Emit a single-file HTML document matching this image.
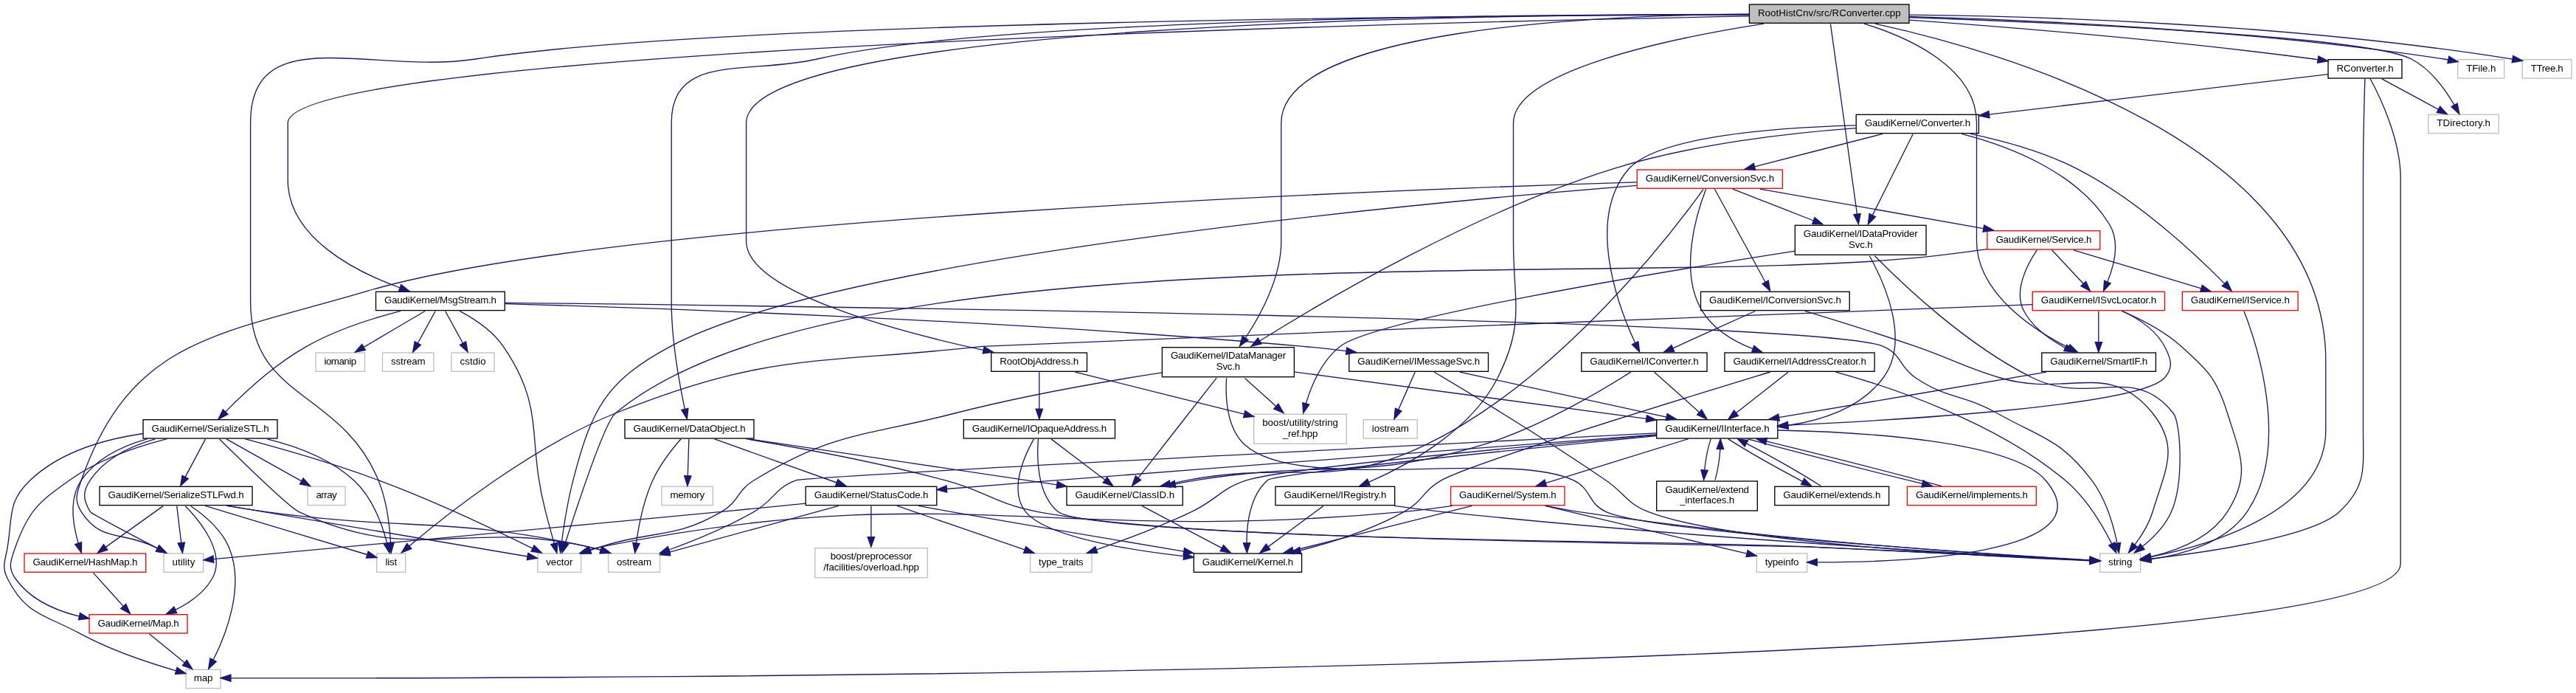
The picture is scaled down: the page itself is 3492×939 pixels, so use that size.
<!DOCTYPE html>
<html><head><meta charset="utf-8"><title>RootHistCnv/src/RConverter.cpp</title>
<style>html,body{margin:0;padding:0;background:#fff}svg{display:block}g.t{filter:grayscale(1)}text{font-family:"Liberation Sans",sans-serif;font-size:13.33px;text-anchor:middle;fill:#000;letter-spacing:-0.2px}.e path{fill:none;stroke:#191970;stroke-width:1.33}.e polygon{fill:#191970;stroke:#191970;stroke-width:1.33}.n rect{stroke-width:1.33}</style></head><body>
<svg width="3492" height="939" viewBox="0 0 3492 939">
<rect width="3492" height="939" fill="#fff"/>
<g class="n">
<rect x="2371.4" y="6" width="216.6" height="25.3" fill="#bfbfbf" stroke="#000"/>
<rect x="3156" y="80.7" width="100" height="25.3" fill="#fff" stroke="#000"/>
<rect x="3331.8" y="80.7" width="62.9" height="25.3" fill="#fff" stroke="#bfbfbf"/>
<rect x="3419.2" y="80.7" width="66.8" height="25.3" fill="#fff" stroke="#bfbfbf"/>
<rect x="2516.2" y="155.3" width="166.2" height="25.3" fill="#fff" stroke="#000"/>
<rect x="3291.8" y="155.3" width="95.4" height="25.3" fill="#fff" stroke="#bfbfbf"/>
<rect x="2219.2" y="230" width="197.1" height="25.3" fill="#fff" stroke="#f00"/>
<rect x="2433.3" y="305.3" width="177.7" height="40" fill="#fff" stroke="#000"/>
<rect x="2693.9" y="312.7" width="152.8" height="25.3" fill="#fff" stroke="#f00"/>
<rect x="509.5" y="395.3" width="174.8" height="25.3" fill="#fff" stroke="#000"/>
<rect x="2305.5" y="395.3" width="201.7" height="25.3" fill="#fff" stroke="#000"/>
<rect x="2755.3" y="395.3" width="179.1" height="25.3" fill="#fff" stroke="#f00"/>
<rect x="2958.3" y="395.3" width="156.8" height="25.3" fill="#fff" stroke="#f00"/>
<rect x="428" y="478" width="66.5" height="25.3" fill="#fff" stroke="#bfbfbf"/>
<rect x="518.5" y="478" width="69.5" height="25.3" fill="#fff" stroke="#bfbfbf"/>
<rect x="612" y="478" width="58" height="25.3" fill="#fff" stroke="#bfbfbf"/>
<rect x="1343.7" y="478" width="129.8" height="25.3" fill="#fff" stroke="#000"/>
<rect x="1575.4" y="470.7" width="179" height="40" fill="#fff" stroke="#000"/>
<rect x="1828.8" y="478" width="188.7" height="25.3" fill="#fff" stroke="#000"/>
<rect x="2143.8" y="478" width="170.2" height="25.3" fill="#fff" stroke="#000"/>
<rect x="2337.9" y="478" width="203.2" height="25.3" fill="#fff" stroke="#000"/>
<rect x="2767.8" y="478" width="154.6" height="25.3" fill="#fff" stroke="#000"/>
<rect x="194" y="568.7" width="182" height="25.3" fill="#fff" stroke="#000"/>
<rect x="847" y="568.7" width="175" height="25.3" fill="#fff" stroke="#000"/>
<rect x="1306.3" y="568.7" width="205.2" height="25.3" fill="#fff" stroke="#000"/>
<rect x="1699.7" y="561.3" width="125.6" height="40" fill="#fff" stroke="#bfbfbf"/>
<rect x="1848.3" y="568.7" width="72.9" height="25.3" fill="#fff" stroke="#bfbfbf"/>
<rect x="2245.7" y="568.7" width="164.1" height="25.3" fill="#fff" stroke="#000"/>
<rect x="135" y="659.3" width="207" height="25.3" fill="#fff" stroke="#000"/>
<rect x="417" y="659.3" width="51" height="25.3" fill="#fff" stroke="#bfbfbf"/>
<rect x="897" y="659.3" width="69.4" height="25.3" fill="#fff" stroke="#bfbfbf"/>
<rect x="1092.2" y="659.3" width="177.6" height="25.3" fill="#fff" stroke="#000"/>
<rect x="1446" y="659.3" width="157.3" height="25.3" fill="#fff" stroke="#000"/>
<rect x="1729" y="659.3" width="161.7" height="25.3" fill="#fff" stroke="#000"/>
<rect x="1966.6" y="659.3" width="154.4" height="25.3" fill="#fff" stroke="#f00"/>
<rect x="2245.7" y="652" width="136.6" height="40" fill="#fff" stroke="#000"/>
<rect x="2405.8" y="659.3" width="154.8" height="25.3" fill="#fff" stroke="#000"/>
<rect x="2585.5" y="659.3" width="174.8" height="25.3" fill="#fff" stroke="#f00"/>
<rect x="33" y="750" width="164.7" height="25.3" fill="#fff" stroke="#f00"/>
<rect x="222" y="750" width="53.6" height="25.3" fill="#fff" stroke="#bfbfbf"/>
<rect x="510.7" y="750" width="39" height="25.3" fill="#fff" stroke="#bfbfbf"/>
<rect x="728.8" y="750" width="58.9" height="25.3" fill="#fff" stroke="#bfbfbf"/>
<rect x="824.6" y="750" width="69.9" height="25.3" fill="#fff" stroke="#bfbfbf"/>
<rect x="1104.7" y="742.7" width="152.6" height="40" fill="#fff" stroke="#bfbfbf"/>
<rect x="1396.6" y="750" width="83.4" height="25.3" fill="#fff" stroke="#bfbfbf"/>
<rect x="1618.3" y="750" width="146.3" height="25.3" fill="#fff" stroke="#000"/>
<rect x="2381.3" y="750" width="68.4" height="25.3" fill="#fff" stroke="#bfbfbf"/>
<rect x="2846.6" y="750" width="55" height="25.3" fill="#fff" stroke="#bfbfbf"/>
<rect x="121" y="832.7" width="133" height="25.3" fill="#fff" stroke="#f00"/>
<rect x="252" y="907.3" width="47" height="25.3" fill="#fff" stroke="#bfbfbf"/>
</g>
<g class="t">
<text x="2479.7" y="22" textLength="193.6">RootHistCnv/src/RConverter.cpp</text>
<text x="3206" y="96.6" textLength="77">RConverter.h</text>
<text x="3363.2" y="96.6" textLength="39.9">TFile.h</text>
<text x="3452.6" y="96.6" textLength="43.8">TTree.h</text>
<text x="2599.3" y="171.3" textLength="143.2">GaudiKernel/Converter.h</text>
<text x="3339.5" y="171.3" textLength="72.4">TDirectory.h</text>
<text x="2317.8" y="246" textLength="174.1">GaudiKernel/ConversionSvc.h</text>
<text x="2522.2" y="320.9" textLength="154.7">GaudiKernel/IDataProvider</text>
<text x="2522.2" y="335.5">Svc.h</text>
<text x="2770.3" y="328.6" textLength="129.8">GaudiKernel/Service.h</text>
<text x="596.9" y="411.3" textLength="151.8">GaudiKernel/MsgStream.h</text>
<text x="2406.3" y="411.3" textLength="178.7">GaudiKernel/IConversionSvc.h</text>
<text x="2844.9" y="411.3" textLength="156.1">GaudiKernel/ISvcLocator.h</text>
<text x="3036.7" y="411.3" textLength="133.8">GaudiKernel/IService.h</text>
<text x="461.2" y="494" textLength="43.5">iomanip</text>
<text x="553.2" y="494" textLength="46.5">sstream</text>
<text x="641" y="494" textLength="35">cstdio</text>
<text x="1408.6" y="494" textLength="106.8">RootObjAddress.h</text>
<text x="1664.9" y="486.3" textLength="156">GaudiKernel/IDataManager</text>
<text x="1664.9" y="500.9">Svc.h</text>
<text x="1923.2" y="494" textLength="165.7">GaudiKernel/IMessageSvc.h</text>
<text x="2228.9" y="494" textLength="147.2">GaudiKernel/IConverter.h</text>
<text x="2439.5" y="494" textLength="180.2">GaudiKernel/IAddressCreator.h</text>
<text x="2845.1" y="494" textLength="131.6">GaudiKernel/SmartIF.h</text>
<text x="285" y="584.6" textLength="159">GaudiKernel/SerializeSTL.h</text>
<text x="934.5" y="584.6" textLength="152">GaudiKernel/DataObject.h</text>
<text x="1408.9" y="584.6" textLength="182.2">GaudiKernel/IOpaqueAddress.h</text>
<text x="1762.5" y="576.9" textLength="102.6">boost/utility/string</text>
<text x="1762.5" y="591.5">_ref.hpp</text>
<text x="1884.8" y="584.6" textLength="49.9">iostream</text>
<text x="2327.8" y="584.6" textLength="141.1">GaudiKernel/IInterface.h</text>
<text x="238.5" y="675.3" textLength="184">GaudiKernel/SerializeSTLFwd.h</text>
<text x="442.5" y="675.3" textLength="28">array</text>
<text x="931.7" y="675.3" textLength="46.4">memory</text>
<text x="1181" y="675.3" textLength="154.6">GaudiKernel/StatusCode.h</text>
<text x="1524.7" y="675.3" textLength="134.3">GaudiKernel/ClassID.h</text>
<text x="1809.8" y="675.3" textLength="138.7">GaudiKernel/IRegistry.h</text>
<text x="2043.8" y="675.3" textLength="131.4">GaudiKernel/System.h</text>
<text x="2314" y="667.6" textLength="113.6">GaudiKernel/extend</text>
<text x="2314" y="682.2">_interfaces.h</text>
<text x="2483.2" y="675.3" textLength="131.8">GaudiKernel/extends.h</text>
<text x="2672.9" y="675.3" textLength="151.8">GaudiKernel/implements.h</text>
<text x="115.3" y="766" textLength="141.7">GaudiKernel/HashMap.h</text>
<text x="248.8" y="766" textLength="30.6">utility</text>
<text x="530.2" y="766">list</text>
<text x="758.2" y="766" textLength="35.9">vector</text>
<text x="859.5" y="766" textLength="46.9">ostream</text>
<text x="1181" y="758.3">boost/preprocessor</text>
<text x="1181" y="772.9" textLength="129.6">/facilities/overload.hpp</text>
<text x="1438.3" y="766" textLength="60.4">type_traits</text>
<text x="1691.4" y="766" textLength="123.3">GaudiKernel/Kernel.h</text>
<text x="2415.5" y="766" textLength="45.4">typeinfo</text>
<text x="2874.1" y="766" textLength="32">string</text>
<text x="187.5" y="848.6" textLength="110">GaudiKernel/Map.h</text>
<text x="275.5" y="923.3">map</text>
</g>
<g class="e">
<g><title>cpp-&gt;list</title><path d="M2371.4,20.1C2030.2,20.9 980.7,27.7 644.9,80C505.5,101.7 339.6,25.6 339.6,166.7C339.6,166.7 339.6,166.7 339.6,409.3C339.6,541.4 462.8,528.5 512.9,650.7C524.2,678.1 528.2,712.2 529.5,735.3"/><polygon points="530.1,749.2 524.9,735.5 534.2,735.1"/></g>
<g><title>cpp-&gt;MsgStream.h</title><path d="M2371.4,21.9C1943,30 390.2,66.3 390.2,166.7C390.2,166.7 390.2,166.7 390.2,244C390.2,321.4 480.9,367.6 542.1,390"/><polygon points="555.1,394.6 540.6,394.4 543.7,385.6"/></g>
<g><title>cpp-&gt;string</title><path d="M2541.8,32.1C2708.4,68.4 3152.8,193 3152.8,489.3C3152.8,489.3 3152.8,489.3 3152.8,582.7C3152.8,694.1 2993,739.2 2915.4,754.6"/><polygon points="2901.9,757.1 2914.5,750 2916.2,759.2"/></g>
<g><title>cpp-&gt;DataObject.h</title><path d="M2371.5,19.6C2091.2,19.4 1347.1,24.2 1107.6,80C1014.3,101.7 910.2,70.9 910.2,166.7C910.2,166.7 910.2,166.7 910.2,409.3C910.2,461.2 921.3,521.1 928.3,554.4"/><polygon points="931.3,567.7 923.8,555.4 932.9,553.4"/></g>
<g><title>cpp-&gt;RootObjAddress.h</title><path d="M2371.1,19.5C2031.5,19.3 1011.6,30 1011.6,166.7C1011.6,166.7 1011.6,166.7 1011.6,326.7C1011.6,395.4 1217.8,449.5 1333.1,474.4"/><polygon points="1346.4,477.2 1332.2,479 1334.1,469.9"/></g>
<g><title>cpp-&gt;IDataManagerSvc.h</title><path d="M2371.6,19.2C2165.6,20.6 1736.8,38.8 1736.8,166.7C1736.8,166.7 1736.8,166.7 1736.8,326.7C1736.8,375.7 1709.2,426.5 1688.2,458"/><polygon points="1680.6,469 1684.3,455.3 1692,460.6"/></g>
<g><title>cpp-&gt;IRegistry.h</title><path d="M2391,32.1C2265.6,51.7 2051.5,95.6 2051.5,166.7C2051.5,166.7 2051.5,166.7 2051.5,326.7C2051.5,409.6 2067.6,438 2030.2,512C1994,583.6 1908.6,630.2 1855.4,653.4"/><polygon points="1843,658.6 1853.6,649.1 1857.2,657.7"/></g>
<g><title>cpp-&gt;IDataProviderSvc.h</title><path d="M2481.4,32.3C2487.5,75.8 2508.2,223.2 2517.5,290.3"/><polygon points="2519.4,303.7 2512.9,290.9 2522.1,289.6"/></g>
<g><title>cpp-&gt;SmartIF.h</title><path d="M2527,32.1C2586.2,50.5 2679.5,91.4 2679.5,166.7C2679.5,166.7 2679.5,166.7 2679.5,326.7C2679.5,396.4 2755.1,446.2 2804,471.1"/><polygon points="2816.4,477.2 2802,475.3 2806.1,466.9"/></g>
<g><title>cpp-&gt;RConverter.h</title><path d="M2588.2,27.2C2718.7,36.5 2944.3,54.6 3136.8,80C3138.6,80.2 3140.4,80.5 3142.2,80.7"/><polygon points="3155.9,82.8 3141.5,85.3 3142.9,76.1"/></g>
<g><title>cpp-&gt;TDirectory.h</title><path d="M2587.6,23.5C2789.8,30.7 3210,49.3 3268.8,80C3295.1,93.7 3315.2,121.9 3327.1,142.4"/><polygon points="3333.8,154.5 3323,144.6 3331.2,140.1"/></g>
<g><title>cpp-&gt;TFile.h</title><path d="M2588.2,22.3C2747.8,26.8 3054.8,40.4 3312.8,80C3314.8,80.3 3316.8,80.6 3318.8,81"/><polygon points="3332,83.7 3317.9,85.6 3319.8,76.4"/></g>
<g><title>cpp-&gt;TTree.h</title><path d="M2587.9,20.2C2759.4,22 3103.5,31.8 3405.9,80.2"/><polygon points="3419.4,82.3 3405.2,84.8 3406.7,75.6"/></g>
<g><title>MsgStream.h-&gt;SerializeSTL.h</title><path d="M543.1,421.3C505.8,431 455.8,446.8 415.6,469.3C372.2,493.7 329.8,533.4 305.6,558.1"/><polygon points="296.1,567.9 302.3,554.9 309,561.3"/></g>
<g><title>MsgStream.h-&gt;vector</title><path d="M623.1,421.4C642.3,431.6 667.4,447.9 682.2,469.3C740.6,553.9 713.2,594 739.6,693.3C743.3,707.6 747.7,723.5 751.3,736.4"/><polygon points="754.9,749.3 746.8,737.6 755.8,735.1"/></g>
<g><title>MsgStream.h-&gt;iomanip</title><path d="M576.2,421.5C554.1,434.5 518.8,455.3 493.1,470.4"/><polygon points="481.3,477.3 490.7,466.4 495.4,474.4"/></g>
<g><title>MsgStream.h-&gt;sstream</title><path d="M590.2,421.5C583.9,433 574.2,450.6 566.3,465"/><polygon points="559.6,477.1 562.2,462.8 570.4,467.3"/></g>
<g><title>MsgStream.h-&gt;cstdio</title><path d="M603.6,421.5C609.9,433 619.6,450.6 627.5,465"/><polygon points="634.1,477.1 623.4,467.3 631.6,462.8"/></g>
<g><title>MsgStream.h-&gt;IMessageSvc.h</title><path d="M684.3,411.6C879,417.1 1362.8,433.4 1766.2,469.3C1785.2,471 1805.6,473.3 1825.1,475.7"/><polygon points="1838.3,477.3 1824.5,480.3 1825.7,471"/></g>
<g><title>MsgStream.h-&gt;string</title><path d="M684.8,410.3C1054.1,414.4 2465.9,432.5 2552.8,469.3C2578,479.9 2574.3,496.9 2596.8,512C2641.5,541.8 2660.8,533.7 2707.5,560C2768.3,594.2 2793.6,595 2835.5,650.7C2854.8,676.3 2865,712.2 2870,736.1"/><polygon points="2872.4,749.2 2865.4,736.9 2874.6,735.3"/></g>
<g><title>SerializeSTL.h-&gt;list</title><path d="M362.1,594.8C401.2,604.3 447.2,621.2 479.6,650.7C504.6,673.5 518.2,711.2 524.8,736.2"/><polygon points="527.9,749.2 520.3,737.3 529.3,735.1"/></g>
<g><title>SerializeSTL.h-&gt;map</title><path d="M194.2,587.5C143.3,594.8 82,611.8 40.9,650.7C10,679.9 17.1,699.4 10.2,741.3C7.2,760 1.8,767 10.2,784C34.7,833.2 60.6,832.5 108.9,858.7C151.2,881.6 204,898.9 238.7,908.9"/><polygon points="252,912.6 237.5,913.4 240,904.4"/></g>
<g><title>SerializeSTL.h-&gt;Map.h</title><path d="M226.5,594.7C186.6,604.9 134,622.5 94.2,650.7C51.9,680.6 38.2,692.5 20.9,741.3C14.6,759.2 10,768.5 20.9,784C40.7,812.2 75.1,827.2 107.5,835.2"/><polygon points="120.8,838.1 106.5,839.7 108.5,830.6"/></g>
<g><title>SerializeSTL.h-&gt;HashMap.h</title><path d="M200,594.7C166.2,604.1 130.6,620.8 110.2,650.7C93.1,675.8 99.1,712.1 106.2,736.2"/><polygon points="110.4,749.1 101.7,737.6 110.6,734.7"/></g>
<g><title>SerializeSTL.h-&gt;utility</title><path d="M210.3,594.8C177.5,604.2 142,621 122.2,650.7C111.7,666.5 112.5,677.1 122.2,693.3C123.6,695.6 176.5,723.6 213.5,742.9"/><polygon points="225.4,749.1 211.4,747.1 215.7,738.8"/></g>
<g><title>SerializeSTL.h-&gt;SerializeSTLFwd.h</title><path d="M278.5,594.9C271.5,608.2 260,629.7 251.1,646.4"/><polygon points="244.7,658.5 247,644.2 255.3,648.6"/></g>
<g><title>SerializeSTL.h-&gt;vector</title><path d="M331.9,594.7C378.4,607.1 451.4,627.7 512.9,650.7C588.9,679 674.7,719.8 722,743.2"/><polygon points="734.3,749.2 720,747.3 724.1,739"/></g>
<g><title>SerializeSTL.h-&gt;ostream</title><path d="M297.5,595C325.5,622.5 392,687.4 404.9,693.3C565.3,767.5 627.2,702.5 799.6,741.3C804.5,742.4 809.5,743.8 814.5,745.3"/><polygon points="827.5,749.3 813.1,749.7 815.9,740.8"/></g>
<g><title>SerializeSTL.h-&gt;array</title><path d="M306.9,594.9C333.3,609.7 378,634.7 408.7,651.9"/><polygon points="420.6,658.5 406.5,656 411,647.8"/></g>
<g><title>Map.h-&gt;map</title><path d="M202.5,858.9C215.6,869.6 234.9,885.4 250.4,898.1"/><polygon points="260.8,906.6 247.4,901.7 253.3,894.5"/></g>
<g><title>HashMap.h-&gt;Map.h</title><path d="M126.4,776.1C137.2,788.1 153.9,806.7 167.2,821.4"/><polygon points="176.5,831.7 163.7,824.6 170.7,818.3"/></g>
<g><title>SerializeSTLFwd.h-&gt;list</title><path d="M278.2,685.4C336.6,703 444,735.3 497.7,751.5"/><polygon points="510.8,755.5 496.4,756 499.1,747.1"/></g>
<g><title>SerializeSTLFwd.h-&gt;map</title><path d="M258.4,685.5C275.8,697.3 299.7,717 310.2,741.3C332.5,793 306.6,859.2 289.1,894.3"/><polygon points="282.6,906.5 284.9,892.1 293.2,896.5"/></g>
<g><title>SerializeSTLFwd.h-&gt;Map.h</title><path d="M251.3,685.7C271.7,706.5 306.9,749.8 287.6,784C276.7,803.2 256.9,817 237.8,826.4"/><polygon points="225.4,832 235.9,822.1 239.7,830.6"/></g>
<g><title>SerializeSTLFwd.h-&gt;HashMap.h</title><path d="M221.1,685.6C201,700 167.2,724.3 143.2,741.4"/><polygon points="132.3,749.2 140.5,737.6 145.9,745.2"/></g>
<g><title>SerializeSTLFwd.h-&gt;utility</title><path d="M239.7,685.6C241.3,698.4 243.7,719.1 245.7,735.6"/><polygon points="247.4,749.2 241.1,736.1 250.4,735"/></g>
<g><title>SerializeSTLFwd.h-&gt;vector</title><path d="M309.4,685.4C419,703.9 625.6,738.9 715.1,754"/><polygon points="728.4,756.3 714.3,758.6 715.9,749.4"/></g>
<g><title>SerializeSTLFwd.h-&gt;ostream</title><path d="M307.4,685.4C324.5,688.2 342.6,691 359.6,693.3C554.5,720 607.4,699.3 799.6,741.3C804.5,742.4 809.5,743.7 814.5,745.2"/><polygon points="827.5,749.3 813.1,749.6 815.9,740.7"/></g>
<g><title>IMessageSvc.h-&gt;iostream</title><path d="M1918.2,504.2C1912.4,517.4 1903,538.6 1895.6,555.2"/><polygon points="1890,567.9 1891.4,553.3 1899.9,557.1"/></g>
<g><title>IMessageSvc.h-&gt;string</title><path d="M1944.3,504.2C1988,530.1 2092.4,593 2176.8,650.7C2203.1,668.6 2204.7,681.8 2234.2,693.3C2344.3,736.4 2709.8,754.7 2833.1,759.8"/><polygon points="2846.6,760.3 2832.9,764.5 2833.3,755.1"/></g>
<g><title>IMessageSvc.h-&gt;IInterface.h</title><path d="M1978.8,504.1C2051.8,519.9 2180,547.9 2259.1,565.1"/><polygon points="2272.3,567.9 2258.1,569.6 2260.1,560.5"/></g>
<g><title>IInterface.h-&gt;ostream</title><path d="M2245.2,586.8C1969.2,600.9 1093.3,645.7 1079.6,650.7C1049.7,661.5 1049.8,677.6 1022.2,693.3C985.1,714.5 940.2,732.8 906.9,745"/><polygon points="894.4,749.6 905.3,740.6 908.5,749.4"/></g>
<g><title>IInterface.h-&gt;StatusCode.h</title><path d="M2245.1,588.9C2087.5,600.7 1732.7,627.5 1434.2,650.7C1384.6,654.5 1329.5,658.9 1283.4,662.5"/><polygon points="1270,663.6 1283,657.9 1283.7,667.2"/></g>
<g><title>IInterface.h-&gt;type_traits</title><path d="M2245.1,589.6C2084.6,603.3 1741.9,634 1690.2,650.7C1653.9,662.4 1650.2,677 1615.5,693.3C1573,713.5 1522.6,732.2 1486.3,744.9"/><polygon points="1473.5,749.3 1484.8,740.5 1487.8,749.3"/></g>
<g><title>IInterface.h-&gt;Kernel.h</title><path d="M2245.1,590.6C2080.8,606.7 1728,642 1718.2,650.7C1694.3,671.8 1689.9,710.2 1690,735.8"/><polygon points="1690.4,749.1 1685.4,735.9 1694.7,735.6"/></g>
<g><title>IInterface.h-&gt;System.h</title><path d="M2288.7,594.7C2238.4,610.3 2151,637.4 2095.2,654.7"/><polygon points="2082.4,658.6 2093.9,650.2 2096.6,659.1"/></g>
<g><title>IInterface.h-&gt;typeinfo</title><path d="M2409.9,583C2525.5,585.3 2727,597.3 2772.8,650.7C2859.5,751.5 2579.1,761.9 2463.2,761.9"/><polygon points="2449.6,761.9 2463.3,757.3 2463.2,766.6"/></g>
<g><title>IInterface.h-&gt;extend_interfaces.h</title><path d="M2319.2,594.9C2315.4,605.8 2312.2,622.2 2310.6,637"/><polygon points="2309.6,650.4 2305.9,636.7 2315.2,637.3"/></g>
<g><title>IInterface.h-&gt;extends.h</title><path d="M2342.8,594.9C2366.2,609.8 2410.8,635.1 2443.6,652.4"/><polygon points="2455.6,658.5 2441.5,656.5 2445.8,648.2"/></g>
<g><title>IInterface.h-&gt;implements.h</title><path d="M2368.4,594.7C2427.1,610.5 2535.6,638.2 2606,655.4"/><polygon points="2619.2,658.6 2604.9,660 2607.1,650.9"/></g>
<g><title>StatusCode.h-&gt;utility</title><path d="M1092.1,682.2C1056.7,685.7 1015.5,689.8 978.2,693.3C715.7,718.5 399.8,747.5 289.3,757.6"/><polygon points="276,758.9 288.9,753 289.8,762.3"/></g>
<g><title>StatusCode.h-&gt;ostream</title><path d="M1136.9,685.4C1076.8,701.8 969.6,731.2 907.6,748.2"/><polygon points="894.7,751.7 906.3,743.7 908.8,752.7"/></g>
<g><title>StatusCode.h-&gt;overload.hpp</title><path d="M1180.9,685.6C1180.9,696.5 1180.9,712.9 1180.9,727.7"/><polygon points="1180.9,741.1 1176.2,727.7 1185.6,727.7"/></g>
<g><title>StatusCode.h-&gt;type_traits</title><path d="M1216,685.4C1260.8,700.8 1338.8,727.6 1389.1,744.9"/><polygon points="1401.9,749.3 1387.6,749.3 1390.6,740.5"/></g>
<g><title>StatusCode.h-&gt;Kernel.h</title><path d="M1244.8,685.3C1259.3,688 1274.6,690.8 1288.9,693.3C1397.6,712.6 1523.2,733.6 1604.8,747.1"/><polygon points="1618,749.3 1604.1,751.7 1605.6,742.5"/></g>
<g><title>System.h-&gt;vector</title><path d="M1968.8,685.4C1947.8,688.4 1924.8,691.3 1903.5,693.3C1420.4,738.4 1288.7,646.2 812.9,741.3C808.3,742.3 803.6,743.5 798.9,744.9"/><polygon points="786.1,749.3 797.4,740.5 800.4,749.3"/></g>
<g><title>System.h-&gt;string</title><path d="M2096.2,685.4C2110.2,688.3 2125.4,691.2 2139.5,693.3C2402.3,732.7 2721.5,752.9 2833.2,759.2"/><polygon points="2846.7,759.9 2833,763.8 2833.5,754.5"/></g>
<g><title>System.h-&gt;Kernel.h</title><path d="M1995.4,685.4C1932.3,701.1 1821.9,728.7 1753,746"/><polygon points="1739.8,749.3 1751.8,741.5 1754.1,750.5"/></g>
<g><title>System.h-&gt;typeinfo</title><path d="M2094.4,685.4C2166.7,702.5 2297.8,733.5 2368,750.1"/><polygon points="2381.2,753.2 2367,754.6 2369.1,745.5"/></g>
<g><title>extend_interfaces.h-&gt;IInterface.h</title><path d="M2325,650.4C2328.4,638 2331,621.9 2331.9,608.5"/><polygon points="2332.2,594.9 2336.6,608.6 2327.2,608.4"/></g>
<g><title>extends.h-&gt;IInterface.h</title><path d="M2468.4,658.5C2445,643.6 2400.3,618.1 2367.4,600.9"/><polygon points="2355.4,594.7 2369.5,596.7 2365.2,605"/></g>
<g><title>implements.h-&gt;IInterface.h</title><path d="M2632,658.6C2573.4,642.8 2464.8,615.1 2394.4,597.9"/><polygon points="2381.2,594.7 2395.5,593.4 2393.3,602.4"/></g>
<g><title>DataObject.h-&gt;ostream</title><path d="M923.1,594.7C911.8,607.6 894.7,629.2 884.9,650.7C872.3,678.3 865.7,712.8 862.4,735.9"/><polygon points="860.7,749.2 857.8,735.3 867.1,736.5"/></g>
<g><title>DataObject.h-&gt;string</title><path d="M1011,594.7C1081.7,606.5 1189.2,626.2 1280.9,650.7C1337.7,665.8 1348.4,682.4 1406.2,693.3C1636.7,736.9 2226.6,730.3 2460.8,741.3C2597.1,747.7 2758.6,755.6 2833,759.3"/><polygon points="2846.7,760 2832.7,764 2833.2,754.6"/></g>
<g><title>DataObject.h-&gt;StatusCode.h</title><path d="M968,594.7C1011.1,610.1 1085.7,636.7 1134.2,654"/><polygon points="1147.1,658.6 1132.6,658.4 1135.8,649.6"/></g>
<g><title>DataObject.h-&gt;memory</title><path d="M933.9,594.9C933.5,607.8 932.8,628.4 932.3,644.9"/><polygon points="931.9,658.5 927.7,644.8 937,645"/></g>
<g><title>DataObject.h-&gt;ClassID.h</title><path d="M1015.1,594.7C1124.2,611 1318.1,639.9 1432.7,656.9"/><polygon points="1445.9,658.9 1432,661.6 1433.4,652.3"/></g>
<g><title>ClassID.h-&gt;Kernel.h</title><path d="M1547.8,685.4C1575.8,700.2 1623.5,725.4 1656.3,742.7"/><polygon points="1668.4,749.1 1654.1,746.8 1658.5,738.6"/></g>
<g><title>RootObjAddress.h-&gt;IOpaqueAddress.h</title><path d="M1408.8,504.2C1408.8,517.1 1408.8,537.7 1408.8,554.2"/><polygon points="1408.8,567.9 1404.2,554.2 1413.5,554.2"/></g>
<g><title>RootObjAddress.h-&gt;string_ref.hpp</title><path d="M1457.4,504.1C1516.4,518.8 1617.2,543.9 1686.7,561.1"/><polygon points="1699.8,564.4 1685.6,565.7 1687.8,556.6"/></g>
<g><title>IOpaqueAddress.h-&gt;string</title><path d="M1407.5,594.7C1405.5,617.9 1404.8,668.8 1434.2,693.3C1478,729.9 2403.9,738.6 2460.8,741.3C2597.1,747.8 2758.6,755.7 2833,759.3"/><polygon points="2846.7,760 2832.7,764 2833.2,754.7"/></g>
<g><title>IOpaqueAddress.h-&gt;Kernel.h</title><path d="M1401.4,594.8C1388.8,617 1367,664.3 1390.2,693.3C1416.7,726.5 1525.4,744.6 1604.7,753.6"/><polygon points="1618.2,755.1 1604.2,758.3 1605.2,749"/></g>
<g><title>IOpaqueAddress.h-&gt;ClassID.h</title><path d="M1425,594.9C1443.9,609.2 1475.4,633.1 1498,650.3"/><polygon points="1508.8,658.5 1495.2,654 1500.9,646.6"/></g>
<g><title>IDataManagerSvc.h-&gt;vector</title><path d="M1575.4,504.8C1499.8,516.5 1389.1,535.6 1294.2,560C1170.8,591.7 1131.1,584.5 1022.2,650.7C998.9,664.8 1001.8,679.7 978.2,693.3C912.1,731.8 885.6,717.5 812.9,741.3C808.8,742.7 804.5,744.1 800.2,745.7"/><polygon points="787.6,750.2 798.6,741.3 801.8,750"/></g>
<g><title>IDataManagerSvc.h-&gt;string</title><path d="M1662.6,512.2C1661,537.3 1662.4,579.8 1687.5,602.7C1761.2,669.6 2042.8,608.4 2132.8,650.7C2157.5,662.2 2152.2,681.9 2176.8,693.3C2236.6,720.9 2692.4,750.4 2833.1,758.9"/><polygon points="2846.7,759.7 2832.8,763.6 2833.4,754.2"/></g>
<g><title>IDataManagerSvc.h-&gt;IInterface.h</title><path d="M1754.3,503.9C1878.8,520.4 2103.8,550.3 2231.8,567.3"/><polygon points="2245.4,569.1 2231.2,571.9 2232.4,562.7"/></g>
<g><title>IDataManagerSvc.h-&gt;ClassID.h</title><path d="M1649.1,512.1C1622.8,545.6 1570.6,612.4 1543,647.7"/><polygon points="1534.6,658.3 1539.3,644.8 1546.6,650.5"/></g>
<g><title>IDataManagerSvc.h-&gt;string_ref.hpp</title><path d="M1687.5,512.4C1700,523.7 1715.9,538 1729.8,550.5"/><polygon points="1740,559.7 1726.7,554 1732.9,547.1"/></g>
<g><title>IRegistry.h-&gt;string</title><path d="M1890,685.4C1911,688.2 1933.4,691.1 1954.2,693.3C2293.1,729.3 2704.2,752.5 2833.4,759.3"/><polygon points="2846.7,759.9 2833.1,763.9 2833.6,754.6"/></g>
<g><title>IRegistry.h-&gt;Kernel.h</title><path d="M1793.8,685.6C1774.4,699.9 1742.2,723.8 1719.1,740.9"/><polygon points="1707.9,749.2 1716.3,737.2 1721.9,744.7"/></g>
<g><title>IDataProviderSvc.h-&gt;string</title><path d="M2541.4,346.8C2578.8,384.9 2666,467.8 2755.5,512C2833.9,550.7 2892.6,491.1 2946.2,560C2956.3,572.9 2960.8,653.9 2943.5,693.3C2935.2,712.3 2919,728.7 2904.3,740.6"/><polygon points="2893.5,748.9 2901.5,736.9 2907.1,744.4"/></g>
<g><title>IDataProviderSvc.h-&gt;IInterface.h</title><path d="M2534.3,346.8C2554.7,383.4 2590,462 2552.8,512C2523.2,552 2470.6,569.3 2423.8,576.5"/><polygon points="2410,578.3 2423.2,571.9 2424.4,581.1"/></g>
<g><title>IDataProviderSvc.h-&gt;string_ref.hpp</title><path d="M2433.5,340.1C2255.1,367.9 1865.5,431.9 1816.8,469.3C1792.2,488.4 1777.9,521.7 1770.3,546.8"/><polygon points="1766.7,559.8 1765.8,545.6 1774.8,548.1"/></g>
<g><title>SmartIF.h-&gt;IInterface.h</title><path d="M2774,504.1C2679.5,520.1 2512.3,548.6 2411.5,565.7"/><polygon points="2398.4,567.9 2410.7,561.1 2412.3,570.3"/></g>
<g><title>RConverter.h-&gt;map</title><path d="M3213.1,106.8C3226.4,131.3 3254.2,189.1 3254.2,241.3C3254.2,241.3 3254.2,241.3 3254.2,764C3254.2,918.7 656.5,919.4 312.9,918.8"/><polygon points="299.1,918.7 312.9,914.1 312.9,923.4"/></g>
<g><title>RConverter.h-&gt;string</title><path d="M3205.9,106.8C3205.1,132 3203.5,191.4 3203.5,241.3C3203.5,241.3 3203.5,241.3 3203.5,582.7C3203.5,633.9 3208.8,658.2 3171.5,693.3C3134.8,728 2987.8,748.8 2915.1,757.1"/><polygon points="2901.6,758.6 2914.6,752.5 2915.6,761.7"/></g>
<g><title>RConverter.h-&gt;Converter.h</title><path d="M3156,100.6C3055.4,112.6 2827.2,139.6 2696.4,155.1"/><polygon points="2682.8,156.7 2695.9,150.5 2697,159.8"/></g>
<g><title>RConverter.h-&gt;TDirectory.h</title><path d="M3228.8,106.9C3249.9,118.2 3281.4,135.3 3305.5,148.3"/><polygon points="3317.2,154.6 3303.3,152.4 3307.7,144.2"/></g>
<g><title>Converter.h-&gt;IDataManagerSvc.h</title><path d="M2515.8,173.6C2430.8,179.7 2296.2,194.4 2184.8,229.3C1997.2,288.1 1794,408 1707.6,462"/><polygon points="1696.2,469.1 1705.2,458 1710.1,465.9"/></g>
<g><title>Converter.h-&gt;IDataProviderSvc.h</title><path d="M2593.2,181.5C2581.5,205 2555.5,257.3 2538.3,291.6"/><polygon points="2532.3,303.8 2534.1,289.6 2542.5,293.7"/></g>
<g><title>Converter.h-&gt;IConverter.h</title><path d="M2515.6,169.9C2412.6,172.6 2246.4,184 2207.5,229.3C2149.6,296.9 2193.2,413.9 2216.6,464.7"/><polygon points="2222.6,477.1 2212.4,466.7 2220.8,462.7"/></g>
<g><title>Converter.h-&gt;ConversionSvc.h</title><path d="M2552.2,181.4C2504.4,193.6 2430.4,212.5 2378.4,225.8"/><polygon points="2365,229.2 2377.3,221.3 2379.6,230.3"/></g>
<g><title>Converter.h-&gt;ISvcLocator.h</title><path d="M2659.2,181.4C2721.6,197.5 2816.2,232.7 2859.5,304C2874,327.7 2865.8,360 2856.8,382.1"/><polygon points="2851.5,394.3 2852.6,380.2 2861.1,383.9"/></g>
<g><title>Converter.h-&gt;IService.h</title><path d="M2671.1,181.4C2714.8,190.6 2771.1,205.8 2816.8,229.3C2898.7,271.3 2978.7,346.9 3015.6,384.4"/><polygon points="3025.2,394.3 3012.3,387.6 3019,381.1"/></g>
<g><title>IConverter.h-&gt;IInterface.h</title><path d="M2242.6,504.2C2258.4,518.3 2284.6,541.6 2303.6,558.7"/><polygon points="2313.9,567.9 2300.5,562.1 2306.8,555.2"/></g>
<g><title>IConverter.h-&gt;ClassID.h</title><path d="M2210.6,504.1C2174,527.5 2089.2,578.6 2010.2,602.7C1844,653.3 1793.6,622.5 1622.2,650.7C1612.7,652.2 1602.8,654.1 1593,656"/><polygon points="1579.8,658.6 1592.1,651.4 1593.9,660.5"/></g>
<g><title>ConversionSvc.h-&gt;utility</title><path d="M2218.8,246.8C1888.3,257.1 824.1,297.1 496.9,394.7C299.4,453.6 178.1,456.1 110.2,650.7C104,668.6 100.1,677.3 110.2,693.3C136.5,735.1 166.1,719.3 210.2,741.3C211.3,741.9 212.4,742.4 213.6,743"/><polygon points="225.6,749.2 211.4,747.2 215.7,738.8"/></g>
<g><title>ConversionSvc.h-&gt;vector</title><path d="M2218.8,251.4C1937.5,273.8 1138,346.9 908.9,469.3C821,516.3 801.9,554.2 776.9,650.7C769.5,679.2 764.3,712.6 761.3,735.2"/><polygon points="759.6,748.9 756.7,734.6 766,735.8"/></g>
<g><title>ConversionSvc.h-&gt;ClassID.h</title><path d="M2309.1,256.3C2271.5,308.7 2116,514.5 1932.8,602.7C1802.3,665.6 1752.6,623.4 1610.2,650.7C1602.4,652.1 1594.3,653.9 1586.3,655.6"/><polygon points="1573,658.7 1585.3,651.1 1587.3,660.2"/></g>
<g><title>ConversionSvc.h-&gt;IDataProviderSvc.h</title><path d="M2348.8,256.1C2377.8,267.5 2421.9,284.8 2458.4,299"/><polygon points="2471,303.9 2456.7,303.4 2460.1,294.7"/></g>
<g><title>ConversionSvc.h-&gt;IAddressCreator.h</title><path d="M2312.6,256.3C2300.7,286.9 2274.8,367.6 2307.5,421.3C2322.7,446.2 2350.2,462.4 2376.2,472.7"/><polygon points="2388.8,477.3 2374.6,477.1 2377.8,468.3"/></g>
<g><title>ConversionSvc.h-&gt;IConversionSvc.h</title><path d="M2324.4,256.2C2339,283 2373.9,347 2393.1,382.3"/><polygon points="2399.6,394.3 2389,384.6 2397.2,380.1"/></g>
<g><title>ConversionSvc.h-&gt;Service.h</title><path d="M2386,256.1C2467.1,270.4 2602.3,294.3 2688.8,309.6"/><polygon points="2702.3,312 2688,314.2 2689.7,305"/></g>
<g><title>IAddressCreator.h-&gt;string</title><path d="M2488.6,504.1C2562.4,524.4 2704.2,570.9 2799.5,650.7C2828.2,674.6 2850.4,712.3 2862.8,736.9"/><polygon points="2868.8,749 2858.7,738.9 2867,734.8"/></g>
<g><title>IAddressCreator.h-&gt;IInterface.h</title><path d="M2424,504.2C2405.8,518.5 2375.4,542.5 2353.5,559.6"/><polygon points="2343,567.9 2350.6,555.9 2356.4,563.3"/></g>
<g><title>IAddressCreator.h-&gt;Kernel.h</title><path d="M2399.8,504C2291.1,537.1 1994.6,628.2 1954.2,650.7C1928.6,665 1929.4,679.1 1903.5,693.3C1859.5,717.7 1805.2,734.9 1762.7,745.9"/><polygon points="1749.4,749.3 1761.6,741.4 1763.8,750.4"/></g>
<g><title>IConversionSvc.h-&gt;string</title><path d="M2446.7,421.4C2485.4,433.1 2545.4,451.7 2596.8,469.3C2648.3,487 2659.5,496.3 2711.5,512C2801.9,539.2 2859.6,486.2 2918.2,560C2955.1,606.4 2935,636.5 2918.2,693.3C2913.4,709.7 2903.2,725.8 2893.9,738.2"/><polygon points="2885.5,748.9 2890.2,735.4 2897.6,741.1"/></g>
<g><title>IConversionSvc.h-&gt;IConverter.h</title><path d="M2379.4,421.5C2349.6,434.9 2301.5,456.6 2267.8,471.8"/><polygon points="2255.5,477.3 2265.9,467.6 2269.7,476.1"/></g>
<g><title>Service.h-&gt;vector</title><path d="M2693.5,337.7C2671,340.8 2646.3,344 2623.5,346.7C2225.8,392.6 1141.8,303.5 834.2,560C820.1,571.8 782.9,684.2 766.3,735.7"/><polygon points="762.1,749.1 761.9,734.3 770.8,737.2"/></g>
<g><title>Service.h-&gt;SmartIF.h</title><path d="M2761.2,338.9C2748.6,357.6 2729,393.9 2743.5,421.3C2755.5,443.8 2778.7,460.2 2799.8,471.3"/><polygon points="2811.9,477.1 2797.7,475.5 2801.8,467.1"/></g>
<g><title>Service.h-&gt;ISvcLocator.h</title><path d="M2781.6,338.8C2793,350.9 2810.4,369.8 2824.3,384.5"/><polygon points="2833.5,394.4 2820.9,387.7 2827.7,381.3"/></g>
<g><title>Service.h-&gt;IService.h</title><path d="M2810.8,338.8C2857.1,352.7 2933,375.5 2983.9,390.8"/><polygon points="2996.8,394.7 2982.6,395.2 2985.3,386.3"/></g>
<g><title>ISvcLocator.h-&gt;list</title><path d="M2755.5,412.7C2435.9,424.8 1367.1,465.4 1331.6,469.3C1108.2,494 1042.7,476.1 834.2,560C720.1,605.9 604,698.2 554.7,740"/><polygon points="544.2,749 551.7,736.4 557.8,743.5"/></g>
<g><title>ISvcLocator.h-&gt;string</title><path d="M2876.3,421.4C2900.3,431.6 2933.1,448 2956.8,469.3C2993.4,502 3005,513.2 3019.5,560C3037.2,616.6 3051.4,643.3 3019.5,693.3C2996.8,729.1 2949.8,746.3 2915.4,754.5"/><polygon points="2902,757.3 2914.4,749.9 2916.4,759"/></g>
<g><title>ISvcLocator.h-&gt;IInterface.h</title><path d="M2877.1,421.5C2897.5,431.1 2922.2,446.7 2934.2,469.3C2943.1,486.1 2946.8,497.9 2934.2,512C2900.8,549.3 2586.2,568.6 2423.6,576.1"/><polygon points="2409.8,576.8 2423.4,571.5 2423.9,580.8"/></g>
<g><title>ISvcLocator.h-&gt;SmartIF.h</title><path d="M2844.8,421.5C2844.8,432.6 2844.8,449.5 2844.8,463.7"/><polygon points="2844.8,477.1 2840.2,463.7 2849.5,463.7"/></g>
<g><title>IService.h-&gt;string</title><path d="M3041.9,421.5C3058.3,463.6 3106.2,605.2 3046.2,693.3C3017.1,736.1 2956.6,752 2915.6,757.9"/><polygon points="2902.2,759.5 2915.1,753.2 2916.2,762.5"/></g>
</g>
</svg>
</body></html>
